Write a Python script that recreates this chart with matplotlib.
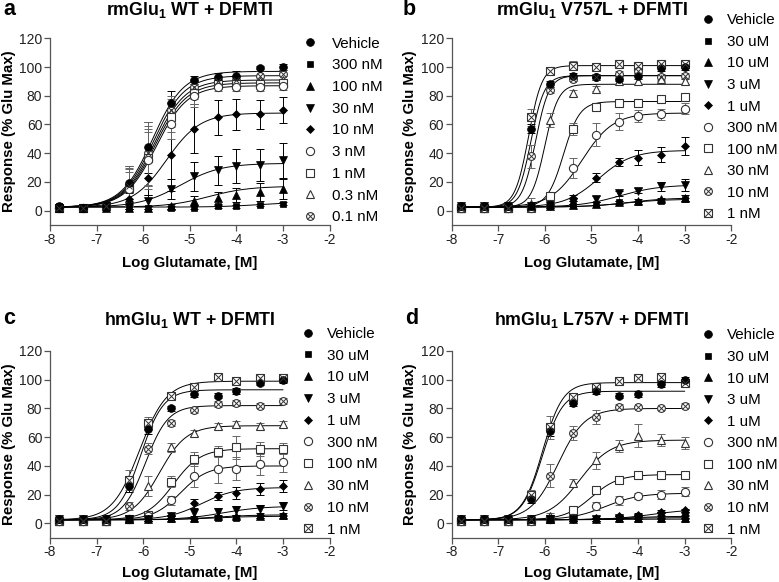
import numpy as np
import matplotlib
matplotlib.use('Agg')
import matplotlib.pyplot as plt

plt.rcParams['font.family'] = ['Liberation Sans', 'DejaVu Sans']
plt.rcParams['axes.unicode_minus'] = False
plt.rcParams['mathtext.fontset'] = 'custom'
plt.rcParams['mathtext.rm'] = 'Liberation Sans'
plt.rcParams['mathtext.bf'] = 'Liberation Sans:bold'

# ---------------- data ----------------
log_glu = [-7.8, -7.3, -6.8, -6.3, -5.9, -5.4, -4.9, -4.4, -4.0, -3.5, -3.0]

titles = ['rmGlu$_\\mathbf{1}$ WT + DFMTI', 'rmGlu$_\\mathbf{1}$ V757L + DFMTI',
          'hmGlu$_\\mathbf{1}$ WT + DFMTI', 'hmGlu$_\\mathbf{1}$ L757V + DFMTI']
panel_letters = ['a', 'b', 'c', 'd']

labels_a = ['Vehicle', '300 nM', '100 nM', '30 nM', '10 nM', '3 nM', '1 nM', '0.3 nM', '0.1 nM']
labels_bcd = ['Vehicle', '30 uM', '10 uM', '3 uM', '1 uM', '300 nM', '100 nM', '30 nM', '10 nM', '1 nM']

# Panel a
a_vals = [
    [3, 2, 3, 19, 44, 75, 91, 93, 94, 99, 100],
    [3, 2, 2, 2, 2, 2, 2, 3, 3, 4, 5],
    [2, 2, 2, 2, 2, 3, 7, 9, 11, 13, 15],
    [2, 2, 3, 3, 7, 15, 24, 28, 31, 32, 35],
    [2, 2, 3, 8, 23, 39, 57, 65, 67, 67, 70],
    [2, 2, 3, 15, 35, 60, 80, 86, 86, 86, 87],
    [2, 2, 3, 16, 37, 65, 82, 88, 88, 88, 89],
    [2, 2, 3, 17, 38, 68, 84, 89, 90, 90, 91],
    [2, 2, 3, 17, 40, 70, 86, 90, 91, 94, 95],
]
a_err = [
    [1, 1, 1, 12, 18, 8, 3, 3, 3, 2, 2],
    [1, 1, 1, 1, 1, 1, 1, 1, 1, 1, 1],
    [1, 1, 1, 1, 1, 2, 3, 4, 5, 6, 7],
    [1, 1, 1, 2, 4, 7, 10, 10, 12, 11, 12],
    [1, 1, 1, 4, 12, 25, 17, 12, 11, 10, 9],
    [1, 1, 1, 12, 20, 10, 8, 3, 3, 3, 3],
    [1, 1, 1, 13, 20, 10, 8, 3, 3, 3, 3],
    [1, 1, 1, 13, 21, 10, 6, 3, 3, 3, 3],
    [1, 1, 1, 14, 22, 10, 5, 3, 3, 3, 3],
]
a_top = [97, 6, 17, 33, 68, 87, 89, 91, 94]
a_ec50 = [-5.8, -3.5, -4.6, -5.2, -5.5, -5.72, -5.74, -5.76, -5.78]
a_hill = [1.3, 1.0, 1.0, 1.0, 1.2, 1.3, 1.3, 1.3, 1.3]

# Panel b
b_vals = [
    [3, 3, 3, 57, 88, 94, 93, 92, 94, 99, 100],
    [3, 3, 3, 3, 3, 4, 5, 6, 6, 7, 8],
    [3, 3, 3, 3, 3, 4, 5, 6, 7, 8, 9],
    [3, 3, 3, 3, 4, 6, 8, 12, 14, 17, 18],
    [3, 3, 3, 3, 3, 9, 23, 34, 37, 39, 45],
    [2, 2, 2, 2, 4, 30, 53, 62, 66, 67, 71],
    [2, 2, 2, 2, 10, 57, 72, 75, 75, 78, 79],
    [2, 2, 2, 5, 63, 82, 85, 90, 90, 92, 90],
    [2, 2, 2, 38, 84, 92, 93, 95, 97, 93, 94],
    [2, 2, 2, 65, 97, 101, 100, 102, 101, 102, 102],
]
b_err = [
    [1, 1, 1, 3, 2, 2, 2, 2, 2, 2, 2],
    [1, 1, 1, 1, 1, 1, 1, 1, 1, 1, 1],
    [1, 1, 1, 1, 1, 1, 1, 1, 1, 1, 2],
    [1, 1, 1, 1, 1, 1, 2, 2, 2, 3, 4],
    [1, 1, 1, 1, 1, 2, 3, 3, 5, 5, 6],
    [1, 1, 1, 1, 2, 7, 8, 6, 4, 4, 4],
    [1, 1, 1, 1, 2, 4, 2, 2, 2, 2, 2],
    [1, 1, 1, 4, 5, 2, 2, 2, 2, 2, 2],
    [1, 1, 1, 8, 2, 2, 2, 2, 2, 2, 2],
    [1, 1, 1, 6, 2, 3, 2, 2, 2, 2, 2],
]
b_top = [94, 8, 9, 18, 42, 68, 76, 88, 94, 101]
b_ec50 = [-6.3, -4.3, -4.2, -4.4, -4.85, -5.2, -5.6, -6.0, -6.2, -6.35]
b_hill = [3.0, 1.0, 1.0, 1.0, 1.2, 1.3, 2.5, 3.0, 3.0, 3.0]

# Panel c
c_vals = [
    [3, 3, 3, 26, 66, 80, 90, 89, 92, 98, 100],
    [3, 3, 3, 3, 3, 3, 3, 4, 4, 5, 5],
    [3, 3, 3, 3, 3, 4, 4, 5, 5, 5, 6],
    [3, 3, 3, 3, 3, 5, 7, 8, 9, 10, 12],
    [3, 3, 3, 3, 3, 5, 14, 19, 21, 24, 26],
    [2, 2, 2, 3, 5, 16, 33, 38, 38, 41, 43],
    [2, 2, 2, 3, 6, 29, 45, 50, 53, 52, 52],
    [2, 2, 2, 3, 26, 53, 63, 68, 69, 68, 69],
    [2, 2, 2, 12, 52, 70, 79, 83, 84, 82, 85],
    [2, 2, 2, 30, 70, 89, 95, 102, 99, 101, 101],
]
c_err = [
    [1, 1, 1, 4, 4, 2, 2, 2, 2, 2, 2],
    [1, 1, 1, 1, 1, 1, 1, 1, 1, 1, 1],
    [1, 1, 1, 1, 1, 1, 1, 1, 1, 1, 1],
    [1, 1, 1, 1, 1, 1, 3, 3, 3, 3, 3],
    [1, 1, 1, 1, 1, 1, 3, 3, 4, 4, 4],
    [1, 1, 1, 1, 1, 3, 8, 10, 8, 7, 7],
    [1, 1, 1, 1, 1, 4, 5, 4, 8, 5, 4],
    [1, 1, 1, 1, 7, 3, 2, 2, 2, 2, 2],
    [1, 1, 1, 3, 4, 2, 2, 2, 2, 2, 2],
    [1, 1, 1, 7, 4, 2, 2, 2, 2, 2, 2],
]
c_top = [93, 5, 6, 12, 25, 40, 52, 68, 82, 99]
c_ec50 = [-6.05, -4.5, -4.5, -4.3, -4.75, -5.2, -5.35, -5.65, -5.95, -6.08]
c_hill = [1.8, 1.0, 1.0, 1.0, 1.2, 1.5, 1.5, 1.5, 1.8, 1.5]

# Panel d
d_vals = [
    [3, 3, 3, 17, 64, 84, 92, 89, 90, 97, 100],
    [3, 3, 3, 3, 3, 3, 3, 3, 3, 3, 3],
    [3, 3, 3, 3, 3, 3, 3, 4, 4, 4, 4],
    [3, 3, 3, 3, 3, 3, 3, 4, 4, 5, 5],
    [3, 3, 3, 3, 3, 3, 4, 5, 6, 8, 9],
    [2, 2, 2, 2, 3, 4, 12, 16, 19, 20, 22],
    [2, 2, 2, 2, 3, 9, 23, 30, 34, 34, 34],
    [2, 2, 2, 3, 5, 28, 44, 54, 61, 58, 56],
    [2, 2, 2, 3, 33, 63, 74, 81, 81, 80, 82],
    [2, 2, 2, 20, 67, 88, 95, 99, 101, 102, 98],
]
d_err = [
    [1, 1, 1, 3, 3, 2, 2, 2, 2, 2, 2],
    [1, 1, 1, 1, 1, 1, 1, 1, 1, 1, 1],
    [1, 1, 1, 1, 1, 1, 1, 1, 1, 1, 1],
    [1, 1, 1, 1, 1, 1, 1, 1, 1, 1, 1],
    [1, 1, 1, 1, 1, 1, 1, 1, 1, 1, 1],
    [1, 1, 1, 1, 1, 1, 3, 3, 2, 3, 3],
    [1, 1, 1, 1, 1, 1, 1, 1, 1, 1, 1],
    [1, 1, 1, 1, 2, 3, 6, 4, 8, 4, 4],
    [1, 1, 1, 1, 8, 5, 5, 2, 1, 1, 2],
    [1, 1, 1, 3, 8, 3, 1, 2, 1, 2, 1],
]
d_top = [92, 3, 4, 5, 10, 21, 34, 58, 80, 98]
d_ec50 = [-6.05, -4.5, -4.5, -4.3, -3.7, -4.7, -5.0, -5.25, -5.72, -6.05]
d_hill = [2.0, 1.0, 1.0, 1.0, 1.0, 1.2, 1.5, 1.3, 1.5, 2.0]

fit_bottom = 2.5

# ---------------- styling ----------------
W, H = 779, 582
fig = plt.figure(figsize=(W / 100, H / 100), dpi=100)

kinds_a = ['fo', 'fs', 'f^', 'fv', 'fD', 'oo', 'os', 'o^', 'ox']
kinds_bcd = ['fo', 'fs', 'f^', 'fv', 'fD', 'oo', 'os', 'o^', 'ox', 'sx']
msize = {'o': 5.6, 's': 4.8, '^': 5.4, 'v': 5.4, 'D': 4.3}

def marker_artists(ax, x, y, kind, z):
    fill, m = kind[0], kind[1]
    if kind == 'ox':
        a1 = ax.plot(x, y, ls='none', marker='o', ms=msize['o'], mfc='white', mec='#333333', mew=0.8, zorder=z)[0]
        a2 = ax.plot(x, y, ls='none', marker='x', ms=msize['o'] * 0.72, mec='#333333', mew=0.7, zorder=z + 0.1)[0]
        return (a1, a2)
    if kind == 'sx':
        a1 = ax.plot(x, y, ls='none', marker='s', ms=msize['s'] + 0.4, mfc='white', mec='#333333', mew=0.8, zorder=z)[0]
        a2 = ax.plot(x, y, ls='none', marker='x', ms=msize['s'] + 0.4, mec='#333333', mew=0.7, zorder=z + 0.1)[0]
        return (a1, a2)
    if fill == 'f':
        return ax.plot(x, y, ls='none', marker=m, ms=msize[m], mfc='black', mec='black', mew=0.5, zorder=z)[0]
    return ax.plot(x, y, ls='none', marker=m, ms=msize[m] + 0.3, mfc='white', mec='#333333', mew=0.8, zorder=z)[0]

def hill(x, top, ec50, h):
    return fit_bottom + (top - fit_bottom) / (1 + 10 ** ((ec50 - x) * h))

panels = [
    dict(vals=a_vals, err=a_err, top=a_top, ec50=a_ec50, hill=a_hill, labels=labels_a, kinds=kinds_a,
         rect=(50, 38.3), leg=(310, 331.7, 44, 217), ylab=9, xlab=266.7, title=15, letter=(3, 15)),
    dict(vals=b_vals, err=b_err, top=b_top, ec50=b_ec50, hill=b_hill, labels=labels_bcd, kinds=kinds_bcd,
         rect=(451.7, 38.3), leg=(707.7, 727, 20.7, 214), ylab=410, xlab=266.7, title=14.5, letter=(403, 15)),
    dict(vals=c_vals, err=c_err, top=c_top, ec50=c_ec50, hill=c_hill, labels=labels_bcd, kinds=kinds_bcd,
         rect=(50, 351), leg=(308, 326.7, 334.3, 529.3), ylab=9, xlab=576.7, title=324.5, letter=(3, 324.5)),
    dict(vals=d_vals, err=d_err, top=d_top, ec50=d_ec50, hill=d_hill, labels=labels_bcd, kinds=kinds_bcd,
         rect=(451.7, 351), leg=(707.7, 727, 335.7, 529.3), ylab=410, xlab=576.7, title=324.5, letter=(405, 324.5)),
]

ax_w_px = 279.5
ax_h_px = 130 * (172.4 / 120)
xs = np.linspace(-7.8, -3.0, 300)
leg_fs = 10.9
spine_c = '#555555'

for i, p in enumerate(panels):
    lx, ty = p['rect']
    ax = fig.add_axes([lx / W, 1 - (ty + ax_h_px) / H, ax_w_px / W, ax_h_px / H])
    ax.set_xlim(-8, -2)
    ax.set_ylim(-10, 120)
    ax.set_xticks(range(-8, -1))
    ax.set_yticks(range(0, 121, 20))
    for s in ['top', 'right']:
        ax.spines[s].set_visible(False)
    for s in ['left', 'bottom']:
        ax.spines[s].set_color(spine_c)
        ax.spines[s].set_linewidth(0.9)
    ax.tick_params(length=4, width=0.9, color=spine_c, labelsize=10, labelcolor='#222222', pad=1.5)
    ax.patch.set_alpha(0)

    handles = []
    n = len(p['vals'])
    for k in range(n):
        kind = p['kinds'][k]
        ec = 'black' if kind[0] == 'f' else '#666666'
        ax.plot(xs, hill(xs, p['top'][k], p['ec50'][k], p['hill'][k]), color='black', lw=0.7, zorder=1)
        ax.errorbar(log_glu, p['vals'][k], yerr=p['err'][k], fmt='none', ecolor=ec,
                    elinewidth=0.7, capsize=2.6, capthick=0.7, zorder=2)
    for k in range(n - 1, -1, -1):
        h = marker_artists(ax, log_glu, p['vals'][k], p['kinds'][k], 3 + (n - k) * 0.01)
        handles.insert(0, h)

    mx, tx, y0, y1 = p['leg']
    em = leg_fs * 100 / 72
    hl = 1.0
    x0 = mx - hl * em / 2
    pad = (tx - (x0 + hl * em)) / em
    spacing = (y1 - y0) / (n - 1)
    ax.legend(handles, p['labels'], loc='center left',
              bbox_to_anchor=(x0 / W, 1 - (y0 + y1) / 2 / H), bbox_transform=fig.transFigure,
              frameon=False, fontsize=leg_fs, handlelength=hl, handletextpad=pad,
              borderpad=0, borderaxespad=0, labelspacing=(spacing - 0.92 * em) / em,
              handleheight=0.7)

    cx = (lx + lx + ax_w_px) / 2
    fig.text(cx / W, 1 - p['title'] / H, titles[i], ha='center', va='baseline',
             fontsize=12.8, fontweight='bold')
    fig.text(p['letter'][0] / W, 1 - p['letter'][1] / H, panel_letters[i], ha='left', va='baseline',
             fontsize=15.5, fontweight='bold')
    cy = ty + ax_h_px / 2
    fig.text(p['ylab'] / W, 1 - cy / H, 'Response (% Glu Max)', rotation=90, ha='center', va='center',
             fontsize=10.8, fontweight='bold')
    fig.text(cx / W, 1 - p['xlab'] / H, 'Log Glutamate, [M]', ha='center', va='baseline',
             fontsize=10.8, fontweight='bold')

fig.savefig('out.png', dpi=100)
